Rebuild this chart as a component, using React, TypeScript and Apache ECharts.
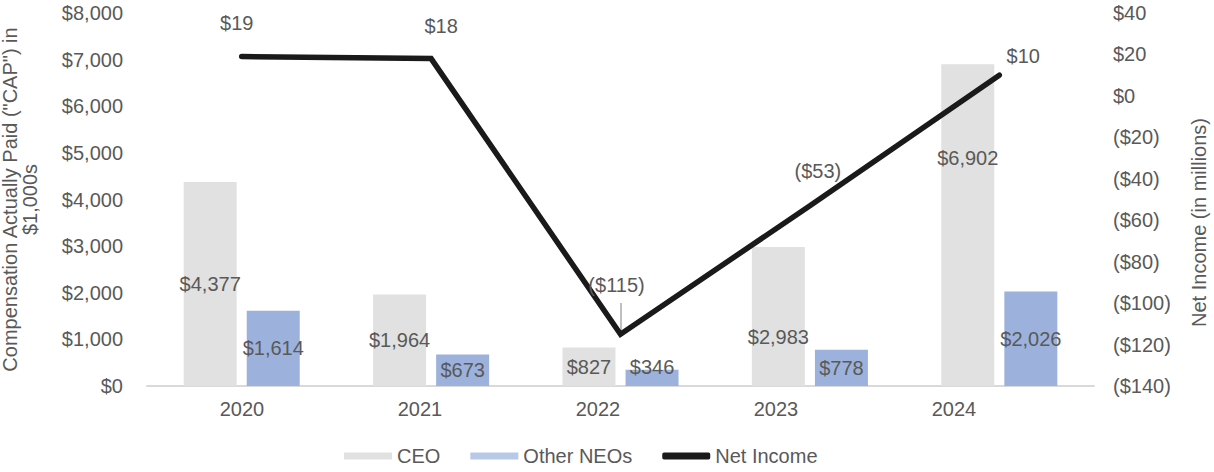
import React, { useEffect, useRef } from "react";
import * as echarts from "echarts";

const years = ["2020", "2021", "2022", "2023", "2024"];
const ceoCap = [4377, 1964, 827, 2983, 6902];
const neoCap = [1614, 673, 346, 778, 2026];
const netIncome = [19, 18, -115, -53, 10];
const leftTicks = { min: 0, max: 8000, interval: 1000 };
const rightTicks = { min: -140, max: 40, interval: 20 };

const TEXT = "#595959";
const FONT = "Liberation Sans, Arial, sans-serif";
const FS = 20;

const money = (v: number) => "$" + Math.round(v).toLocaleString("en-US");
const moneyParen = (v: number) => (v < 0 ? "($" + Math.abs(v) + ")" : "$" + v);

export default function App() {
  const ref = useRef<HTMLDivElement>(null);
  useEffect(() => {
    if (!ref.current) return;
    const chart = echarts.init(ref.current, undefined, { renderer: "svg" });

    const ceoLabelOffsets: Record<number, number[]> = { 3: [0, 21], 4: [0, -67] };
    const neoLabelOffsets: Record<number, number[]> = { 2: [0, -11] };
    const lineLabelShift = [
      [-5, -23],
      [10, -22],
      [-4, -39],
      [8, -24],
      [24, -9],
    ];

    const option: any = {
      animation: false,
      textStyle: { fontFamily: FONT },
      grid: [
        { left: 147, right: 120, top: 13, height: 373, outerBoundsMode: "none", containLabel: false },
        { left: 153, right: 171, top: 13, height: 373, outerBoundsMode: "none", containLabel: false },
      ],
      legend: {
        left: 339,
        top: 441,
        itemWidth: 48,
        itemHeight: 7,
        itemGap: 30,
        textStyle: { color: TEXT, fontSize: FS, fontFamily: FONT },
        data: [
          { name: "CEO", icon: "rect" },
          { name: "Other NEOs", icon: "rect", itemStyle: { color: "#b8c9e8" } },
          { name: "Net Income", icon: "roundRect", itemStyle: { color: "#1a1a1a" } },
        ],
      },
      xAxis: [
        {
          type: "category",
          gridIndex: 0,
          data: years,
          axisLine: { lineStyle: { color: "#d9d9d9", width: 2 } },
          axisTick: { show: false },
          axisLabel: { show: false },
        },
        {
          type: "category",
          gridIndex: 1,
          data: years,
          axisLine: { show: false },
          axisTick: { show: false },
          axisLabel: { color: TEXT, fontSize: FS, margin: 13, fontFamily: FONT },
        },
      ],
      yAxis: [
        {
          type: "value",
          gridIndex: 0,
          ...leftTicks,
          splitLine: { show: false },
          axisLine: { show: false },
          axisTick: { show: false },
          axisLabel: { color: TEXT, fontSize: FS, margin: 24, formatter: money, fontFamily: FONT },
          name: 'Compensation Actually Paid ("CAP") in\n$1,000s',
          nameLocation: "middle",
          nameGap: 107,
          nameTextStyle: { color: TEXT, fontSize: FS, lineHeight: 20, fontFamily: FONT },
        },
        {
          type: "value",
          gridIndex: 0,
          position: "right",
          ...rightTicks,
          splitLine: { show: false },
          axisLine: { show: false },
          axisTick: { show: false },
          axisLabel: { color: TEXT, fontSize: FS, margin: 19, formatter: moneyParen, fontFamily: FONT },
          name: "Net Income (in millions)",
          nameLocation: "middle",
          nameGap: 95,
          nameTextStyle: { color: TEXT, fontSize: FS, fontFamily: FONT, padding: [0, 46, 0, 0] },
        },
        { type: "value", gridIndex: 1, show: false },
      ],
      series: [
        {
          name: "CEO",
          type: "bar",
          xAxisIndex: 0,
          yAxisIndex: 0,
          barWidth: 53,
          barGap: "19%",
          itemStyle: { color: "#e0e1e0" },
          label: {
            show: true,
            position: "inside",
            color: TEXT,
            fontSize: FS,
            fontFamily: FONT,
            formatter: (p: any) => money(p.value),
          },
          data: ceoCap.map((v, i) =>
            ceoLabelOffsets[i] ? { value: v, label: { offset: ceoLabelOffsets[i] } } : v
          ),
        },
        {
          name: "Other NEOs",
          type: "bar",
          xAxisIndex: 0,
          yAxisIndex: 0,
          barWidth: 53,
          itemStyle: { color: "#9cb2dc" },
          label: {
            show: true,
            position: "inside",
            color: TEXT,
            fontSize: FS,
            fontFamily: FONT,
            formatter: (p: any) => money(p.value),
          },
          data: neoCap.map((v, i) =>
            neoLabelOffsets[i] ? { value: v, label: { offset: neoLabelOffsets[i] } } : v
          ),
        },
        {
          name: "Net Income",
          type: "line",
          xAxisIndex: 0,
          yAxisIndex: 1,
          symbol: "circle",
          symbolSize: 1,
          showSymbol: true,
          lineStyle: { color: "#1a1a1a", width: 5.5, cap: "round", join: "miter" },
          itemStyle: { color: "#1a1a1a" },
          z: 5,
          label: {
            show: true,
            position: "top",
            distance: 0,
            color: TEXT,
            fontSize: FS,
            fontFamily: FONT,
            formatter: (p: any) => moneyParen(p.value),
          },
          labelLayout: (p: any) => {
            const s = lineLabelShift[p.dataIndex] || [0, 0];
            return { dx: s[0], dy: s[1], hideOverlap: false };
          },
          data: netIncome,
          markLine: {
            silent: true,
            symbol: "none",
            label: { show: false },
            lineStyle: { color: "#bfbfbf", width: 2, type: "solid" },
            data: [
              [
                { coord: [years[2], netIncome[2]] },
                { coord: [years[2], netIncome[2] + 15] },
              ],
            ],
          },
        },
      ],
    };
    chart.setOption(option);
    return () => chart.dispose();
  }, []);
  return (
    <div
      ref={ref}
      style={{ position: "fixed", left: 0, top: 0, width: 1214, height: 472, background: "#fff" }}
    />
  );
}
